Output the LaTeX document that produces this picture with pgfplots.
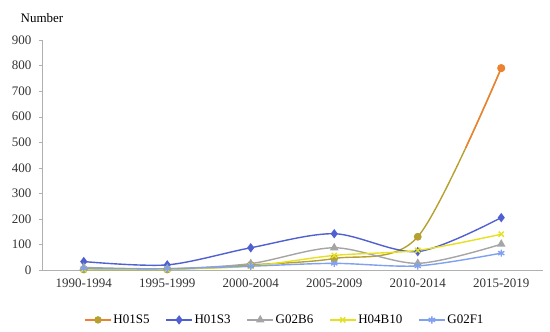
\documentclass[border=0pt]{standalone}
\usepackage{fontspec}
\setmainfont{Liberation Serif}
\usepackage{pgfplots}
\pgfplotsset{compat=1.18}
\definecolor{cOlive}{HTML}{B5A030}
\definecolor{cOrange}{HTML}{F08030}
\definecolor{cBlue}{HTML}{5060D0}
\definecolor{cGray}{HTML}{A5A5A5}
\definecolor{cYellow}{HTML}{E6E020}
\definecolor{cLBlue}{HTML}{80A0F0}
\definecolor{cAxis}{HTML}{B0B0B0}
\begin{document}
\begin{tikzpicture}
\begin{axis}[
  scale only axis, width=501pt, height=230pt,
  xmin=-0.5, xmax=5.5, ymin=0, ymax=900,
  ytick={0,100,...,900},
  xtick={0,...,5},
  xticklabels={1990-1994,1995-1999,2000-2004,2005-2009,2010-2014,2015-2019},
  major x tick style={draw=none},
  extra x ticks={0.5,1.5,2.5,3.5,4.5,5.5},
  extra x tick labels={},
  extra x tick style={major tick length=4pt, tick align=outside, tick style={draw=cAxis}},
  axis x line*=bottom, axis y line*=left,
  axis line style={draw=cAxis, thick},
  y axis line style={-}, x axis line style={-},
  ytick style={draw=cAxis}, tick align=outside, major tick length=3pt,
  ticklabel style={font=\fontsize{13}{14}\selectfont, text=black!80},
  yticklabel style={xshift=-4pt},
  xticklabel style={yshift=-2pt},
  /pgf/number format/assume math mode=true,
  legend style={at={(0.485,-0.217)}, anchor=center, draw=none, legend columns=-1,
    font=\fontsize{13}{14}\selectfont, /tikz/every even column/.append style={column sep=14pt}},
  every axis plot/.append style={line width=1.4pt, smooth, tension=0.5},
  legend image code/.code={\draw[#1, mark repeat=2, mark phase=2] plot coordinates {(0cm,0cm) (0.45cm,0cm) (0.9cm,0cm)};},
  clip=false,
]
\addplot[cOlive, mark=*, mark size=3.2pt, mark options={fill=cOlive, draw=cOlive},
  legend image code/.code={\draw[cOrange, line width=1.4pt] (0cm,0cm) -- (0.9cm,0cm); \fill[cOlive] (0.45cm,0cm) circle (3pt);}]
  coordinates {(0,2) (1,2) (2,20) (3,45) (4,130) (5,790)};
\addlegendentry{H01S5}
\addplot[cBlue, mark=diamond*, mark size=3.6pt, mark options={fill=cBlue}]
  coordinates {(0,33) (1,20) (2,87) (3,142) (4,72) (5,205)};
\addlegendentry{H01S3}
\addplot[cGray, mark=triangle*, mark size=3.6pt, mark options={fill=cGray}]
  coordinates {(0,10) (1,5) (2,25) (3,87) (4,26) (5,101)};
\addlegendentry{G02B6}
\addplot[cYellow, mark=x, mark size=3.6pt]
  coordinates {(0,2) (1,3) (2,15) (3,57) (4,77) (5,140)};
\addlegendentry{H04B10}
\addplot[cLBlue, mark=asterisk, mark size=3.6pt]
  coordinates {(0,6) (1,5) (2,15) (3,26) (4,16) (5,66)};
\addlegendentry{G02F1}
\begin{scope}
\clip (axis cs:4.3,480) rectangle (axis cs:5.5,900);
\addplot[cOrange, forget plot, mark=none]
  coordinates {(0,2) (1,2) (2,20) (3,45) (4,130) (5,790)};
\end{scope}
\addplot[cOrange, forget plot, only marks, mark=*, mark size=3.2pt, mark options={fill=cOrange, draw=cOrange}]
  coordinates {(5,790)};
\node[font=\fontsize{13}{14}\selectfont] at (axis description cs:0,1.096) {Number};
\end{axis}
\pgfresetboundingbox
\path[use as bounding box] (-42pt,-62pt) rectangle (508pt,270pt);
\end{tikzpicture}
\end{document}
